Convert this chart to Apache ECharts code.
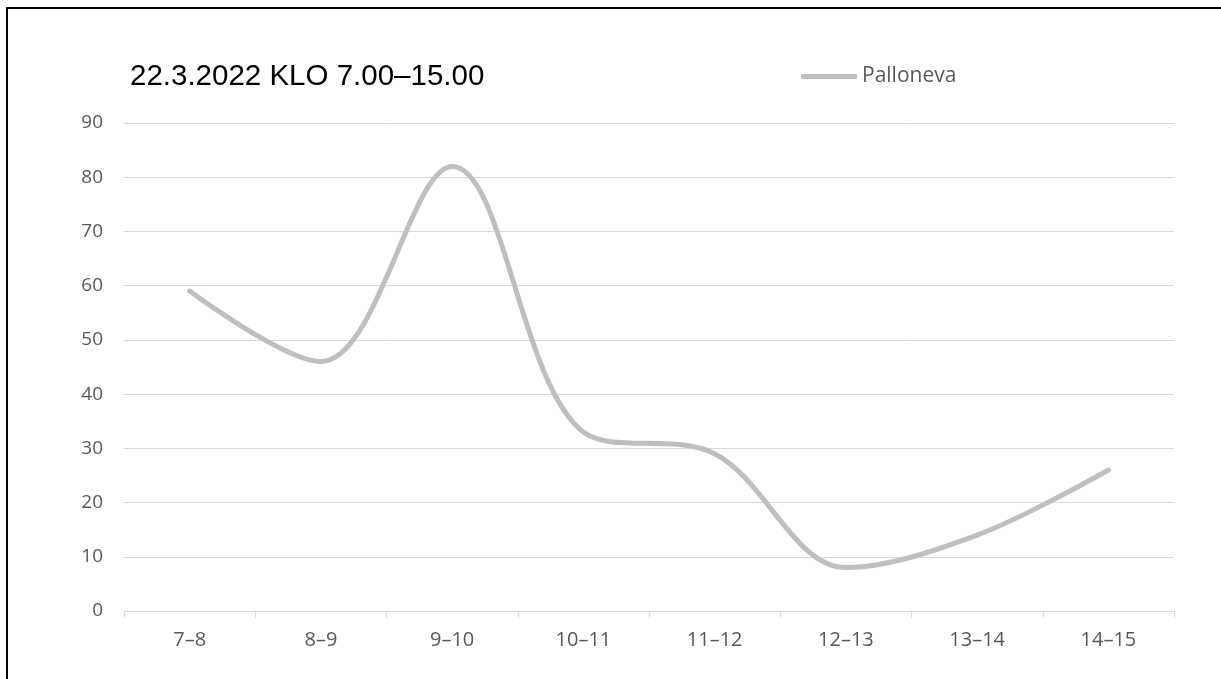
<!DOCTYPE html>
<html>
<head>
<meta charset="utf-8">
<script src="https://cdn.jsdelivr.net/npm/echarts@6/dist/echarts.min.js"></script>
<style>
html,body{margin:0;padding:0;background:#fff;}
#chart{width:1221px;height:679px;}
</style>
</head>
<body>
<div id="chart"></div>
<script>
const titleText = '22.3.2022 KLO 7.00–15.00';
const seriesName = 'Palloneva';
const categories = ['7–8','8–9','9–10','10–11','11–12','12–13','13–14','14–15'];
const values = [59, 46, 82, 33, 29, 8, 14, 26];
const yTicks = {min: 0, max: 90, interval: 10};

const chart = echarts.init(document.getElementById('chart'));
chart.setOption({
  animation: false,
  backgroundColor: '#ffffff',
  title: {
    text: titleText,
    left: 125, top: 57,
    textStyle: {fontFamily: 'Liberation Sans', fontSize: 29.5, fontWeight: 'normal', color: '#000000'}
  },
  legend: {
    data: [seriesName],
    left: 796, top: 61,
    itemWidth: 56, itemHeight: 5, itemGap: 2,
    icon: 'roundRect',
    textStyle: {fontFamily: 'Open Sans', fontSize: 21, color: '#595959'}
  },
  grid: {left: 124, right: 47, top: 123, bottom: 68, containLabel: false},
  xAxis: {
    type: 'category',
    data: categories,
    boundaryGap: true,
    axisLine: {lineStyle: {color: '#d9d9d9', width: 1}},
    axisTick: {show: true, length: 7, lineStyle: {color: '#d9d9d9'}},
    axisLabel: {fontFamily: 'Open Sans', fontSize: 20, color: '#595959', margin: 19}
  },
  yAxis: {
    type: 'value',
    min: yTicks.min, max: yTicks.max, interval: yTicks.interval,
    axisLine: {show: false},
    axisTick: {show: false},
    splitLine: {lineStyle: {color: '#d9d9d9', width: 1}},
    axisLabel: {fontFamily: 'Open Sans', fontSize: 19, color: '#595959', margin: 21}
  },
  series: [{
    name: seriesName,
    type: 'line',
    data: values,
    smooth: 0.35,
    showSymbol: false,
    symbol: 'none',
    lineStyle: {color: '#bfbfbf', width: 5, cap: 'round', join: 'round'},
    itemStyle: {color: '#bfbfbf'}
  }],
  graphic: [{
    type: 'rect',
    shape: {x: 7, y: 8, width: 1400, height: 900},
    style: {fill: 'none', stroke: '#000000', lineWidth: 2},
    silent: true
  }]
});
</script>
</body>
</html>
